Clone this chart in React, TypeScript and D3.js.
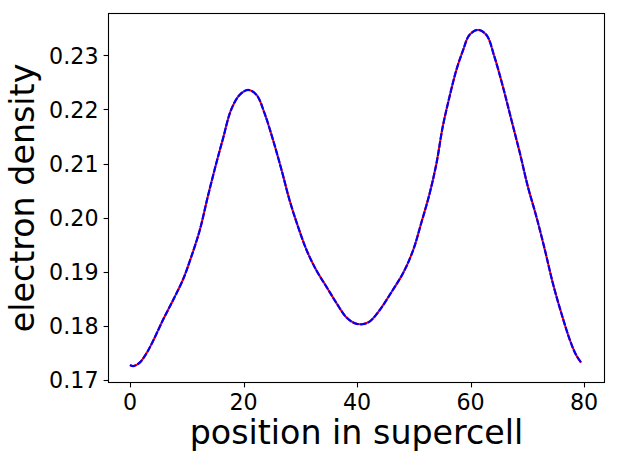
import React, { useEffect, useRef } from "react";
import * as d3 from "d3";

// position in supercell
const positions = [
  0, 0.6, 1.7, 2.9, 4.0, 5.8, 7.6, 9.3, 10.8, 12.3, 13.7, 15.2, 16.4, 17.8, 19.3,
  20.8, 22.3, 23.7, 25.2, 26.7, 28.1, 29.6, 31.1, 32.8, 34.6, 36.4, 38.1, 39.6,
  40.9, 42.2, 44.0, 46.3, 48.1, 49.9, 51.3, 52.8, 54.0, 55.1, 56.3, 57.5, 58.7,
  59.8, 61.3, 62.8, 64.2, 65.7, 67.2, 68.7, 70.1, 71.6, 73.1, 74.5, 76.0, 77.5,
  78.6, 79.5,
];

// electron density
const density = [
  0.17277, 0.17258, 0.1732, 0.17493, 0.17708, 0.18109, 0.18479, 0.18848, 0.19279,
  0.19773, 0.20388, 0.21006, 0.21468, 0.2199, 0.22268, 0.2236, 0.22268, 0.2193,
  0.21436, 0.20882, 0.20327, 0.19834, 0.19403, 0.19033, 0.18725, 0.18418, 0.18159,
  0.18048, 0.1803, 0.18078, 0.18294, 0.18664, 0.18972, 0.19403, 0.19896, 0.2045,
  0.21006, 0.21682, 0.22237, 0.2273, 0.231, 0.23377, 0.2347, 0.23377, 0.22976,
  0.22421, 0.21806, 0.2119, 0.20573, 0.20018, 0.19403, 0.18787, 0.18233, 0.17739,
  0.17462, 0.1732,
];

const xTicks = [0, 20, 40, 60, 80];
const yTicks = [0.17, 0.18, 0.19, 0.2, 0.21, 0.22, 0.23];

const ElectronDensity = () => {
  const svgRef = useRef<SVGSVGElement>(null);

  useEffect(() => {
    const W = 617;
    const H = 464;
    const left = 108.5, right = 604.5, top = 13.5, bottom = 382.5;
    const font = "'DejaVu Sans', sans-serif";

    const svg = d3.select(svgRef.current);
    svg.selectAll("*").remove();
    svg.attr("width", W).attr("height", H);

    svg.append("rect").attr("width", W).attr("height", H).attr("fill", "white");

    const x = d3.scaleLinear().domain([-3.79, 83.6]).range([left, right]);
    const y = d3.scaleLinear().domain([0.16954, 0.23773]).range([bottom, top]);

    const pts: [number, number][] = positions.map((p, i) => [p, density[i]]);

    const line = d3
      .line<[number, number]>()
      .x((d) => x(d[0]))
      .y((d) => y(d[1]))
      .curve(d3.curveCatmullRom);

    // red solid underneath, blue dashed on top
    svg.append("path")
      .datum(pts)
      .attr("fill", "none")
      .attr("stroke", "red")
      .attr("stroke-width", 2)
      .attr("d", line);

    svg.append("path")
      .datum(pts)
      .attr("fill", "none")
      .attr("stroke", "blue")
      .attr("stroke-width", 2.2)
      .attr("stroke-dasharray", "6.5,1.5")
      .attr("d", line);

    // axes box
    svg.append("rect")
      .attr("x", left)
      .attr("y", top)
      .attr("width", right - left)
      .attr("height", bottom - top)
      .attr("fill", "none")
      .attr("stroke", "black")
      .attr("stroke-width", 1.1);

    // x ticks
    const xt = svg.append("g");
    xTicks.forEach((t) => {
      const px = Math.round(x(t)) + 0.5;
      xt.append("line")
        .attr("x1", px).attr("x2", px)
        .attr("y1", bottom).attr("y2", bottom + 4.9)
        .attr("stroke", "black").attr("stroke-width", 1.1);
      xt.append("text")
        .attr("x", x(t))
        .attr("y", 410)
        .attr("text-anchor", "middle")
        .style("font-family", font)
        .style("font-size", "22.2px")
        .text(String(t));
    });

    // y ticks
    const yt = svg.append("g");
    yTicks.forEach((t) => {
      const py = Math.round(y(t)) + 0.5;
      yt.append("line")
        .attr("x1", left - 4.9).attr("x2", left)
        .attr("y1", py).attr("y2", py)
        .attr("stroke", "black").attr("stroke-width", 1.1);
      yt.append("text")
        .attr("x", 98.5)
        .attr("y", y(t) + 8.4)
        .attr("text-anchor", "end")
        .style("font-family", font)
        .style("font-size", "22.2px")
        .text(t.toFixed(2));
    });

    // axis labels
    svg.append("text")
      .attr("x", 356.5)
      .attr("y", 443.5)
      .attr("text-anchor", "middle")
      .style("font-family", font)
      .style("font-size", "33.3px")
      .text("position in supercell");

    svg.append("text")
      .attr("transform", `translate(33.5,${(top + bottom) / 2}) rotate(-90)`)
      .attr("text-anchor", "middle")
      .style("font-family", font)
      .style("font-size", "33.3px")
      .text("electron density");
  }, []);

  return <svg ref={svgRef} style={{ position: "absolute", left: 0, top: 0 }}></svg>;
};

export default function App() {
  return <ElectronDensity />;
}
